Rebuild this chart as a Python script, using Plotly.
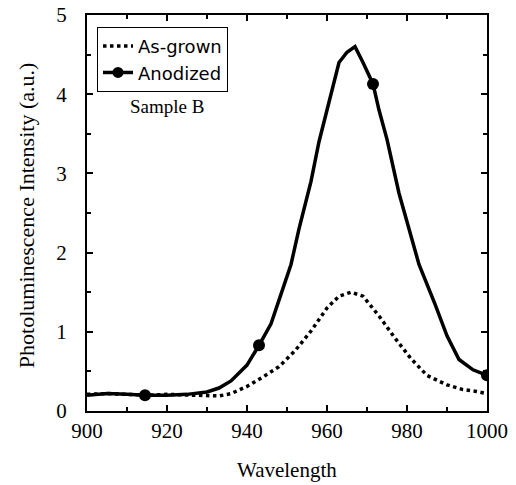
import plotly.graph_objects as go

# As-grown spectrum
wl_asgrown = [900, 905, 910, 915, 920, 925, 930, 933, 936, 940, 944, 948, 952, 956,
              960, 963, 966, 969, 973, 977, 981, 985, 990, 994, 997, 1000]
pl_asgrown = [0.21, 0.22, 0.21, 0.20, 0.21, 0.20, 0.19, 0.19, 0.22, 0.31, 0.43, 0.56,
              0.76, 1.01, 1.30, 1.45, 1.50, 1.45, 1.20, 0.92, 0.66, 0.45, 0.33, 0.27,
              0.25, 0.22]

# Anodized spectrum
wl_anodized = [900, 905, 910, 914.5, 920, 925, 930, 933, 936, 940, 943, 946, 948, 951,
               953, 956, 958, 961, 963, 965, 967, 969, 971.5, 973, 975, 978, 981, 983,
               987, 990, 993, 996.5, 1000]
pl_anodized = [0.20, 0.22, 0.21, 0.20, 0.20, 0.21, 0.24, 0.29, 0.38, 0.58, 0.83, 1.10,
               1.40, 1.85, 2.30, 2.90, 3.40, 4.00, 4.40, 4.53, 4.60, 4.40, 4.13, 3.80,
               3.43, 2.75, 2.20, 1.85, 1.35, 0.95, 0.65, 0.52, 0.45]
marker_idx = [3, 10, 22, 32]

x_ticks = [900, 920, 940, 960, 980, 1000]
y_ticks = [0, 1, 2, 3, 4, 5]

serif = "Liberation Serif"
sans = "DejaVu Sans"

fig = go.Figure()
fig.add_trace(go.Scatter(x=wl_asgrown, y=pl_asgrown, mode="lines", name="As-grown",
                         line=dict(color="black", width=3.5, dash="dot")))
fig.add_trace(go.Scatter(x=wl_anodized, y=pl_anodized, mode="lines", showlegend=False,
                         line=dict(color="black", width=3.5)))
fig.add_trace(go.Scatter(x=[wl_anodized[i] for i in marker_idx],
                         y=[pl_anodized[i] for i in marker_idx],
                         mode="markers", showlegend=False,
                         marker=dict(color="black", size=12)))
fig.add_trace(go.Scatter(x=[None], y=[None], mode="lines+markers", name="Anodized",
                         line=dict(color="black", width=3.5),
                         marker=dict(color="black", size=11)))

axis_common = dict(showline=True, linecolor="black", linewidth=2, mirror="ticks",
                   ticks="inside", ticklen=6, tickwidth=1.5, tickcolor="black",
                   showgrid=False, zeroline=False, automargin=False,
                   tickfont=dict(family=serif, size=21, color="black"))

fig.update_xaxes(range=[900, 1000], tickvals=x_ticks,
                 minor=dict(dtick=10, ticks="inside", ticklen=4, tickcolor="black"),
                 **axis_common)
fig.update_yaxes(range=[0, 5], tickvals=y_ticks, ticklabelstandoff=14,
                 minor=dict(dtick=0.5, ticks="inside", ticklen=4, tickcolor="black"),
                 **axis_common)

fig.update_layout(
    width=516, height=485,
    margin=dict(l=87, r=29, t=15, b=74),
    paper_bgcolor="white", plot_bgcolor="white",
    showlegend=True,
    legend=dict(x=0.025, y=0.97, xanchor="left", yanchor="top",
                bordercolor="black", borderwidth=1, bgcolor="white",
                font=dict(family=sans, size=18, color="black"),
                tracegroupgap=0, itemwidth=30),
    annotations=[
        dict(text="Sample B", x=0.2, y=0.768, xref="paper", yref="paper",
             xanchor="center", yanchor="middle",
             showarrow=False, font=dict(family=serif, size=19, color="black")),
        dict(text="Wavelength", x=0.5, y=-0.149, xref="paper", yref="paper",
             showarrow=False, xanchor="center", yanchor="middle",
             font=dict(family=serif, size=21, color="black")),
        dict(text="Photoluminescence Intensity (a.u.)", x=-0.1525, y=0.492,
             xref="paper", yref="paper", showarrow=False, textangle=-90,
             xanchor="center", yanchor="middle",
             font=dict(family=serif, size=22, color="black")),
    ],
)

fig.write_html("out.html", config={"displayModeBar": False},
               post_script="document.body.style.margin='0';document.body.style.overflow='hidden';")
